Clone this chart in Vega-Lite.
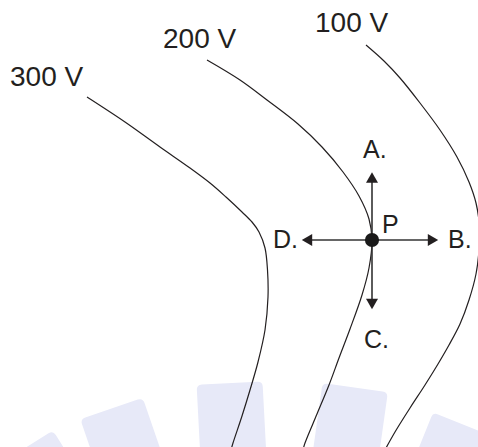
{
  "$schema": "https://vega.github.io/schema/vega-lite/v6.json",
  "width": 478,
  "height": 447,
  "padding": 0,
  "autosize": {"type": "none"},
  "background": "white",
  "config": {"view": {"stroke": null}},
  "datasets": {
    "watermark": [
      {"x": 60, "y": 504, "a": -32},
      {"x": 133, "y": 471, "a": -19},
      {"x": 233, "y": 449, "a": -3},
      {"x": 346, "y": 453, "a": 8},
      {"x": 439, "y": 486, "a": 22}
    ],
    "curves": [
      {"v": "300", "i": 0, "x": 87, "y": 97},
      {"v": "300", "i": 1, "x": 125, "y": 122},
      {"v": "300", "i": 2, "x": 160, "y": 147},
      {"v": "300", "i": 3, "x": 190, "y": 168},
      {"v": "300", "i": 4, "x": 210, "y": 183},
      {"v": "300", "i": 5, "x": 226, "y": 197},
      {"v": "300", "i": 6, "x": 242, "y": 212},
      {"v": "300", "i": 7, "x": 252, "y": 222},
      {"v": "300", "i": 8, "x": 259, "y": 232},
      {"v": "300", "i": 9, "x": 265, "y": 248},
      {"v": "300", "i": 10, "x": 267.5, "y": 270},
      {"v": "300", "i": 11, "x": 268, "y": 297},
      {"v": "300", "i": 12, "x": 265, "y": 330},
      {"v": "300", "i": 13, "x": 258, "y": 362},
      {"v": "300", "i": 14, "x": 250, "y": 390},
      {"v": "300", "i": 15, "x": 242, "y": 416},
      {"v": "300", "i": 16, "x": 233, "y": 443},
      {"v": "300", "i": 17, "x": 231, "y": 450},
      {"v": "200", "i": 0, "x": 207, "y": 60},
      {"v": "200", "i": 1, "x": 240, "y": 80},
      {"v": "200", "i": 2, "x": 267, "y": 100},
      {"v": "200", "i": 3, "x": 298, "y": 124},
      {"v": "200", "i": 4, "x": 322, "y": 147},
      {"v": "200", "i": 5, "x": 343, "y": 172},
      {"v": "200", "i": 6, "x": 359, "y": 196},
      {"v": "200", "i": 7, "x": 369, "y": 219},
      {"v": "200", "i": 8, "x": 372, "y": 240},
      {"v": "200", "i": 9, "x": 369, "y": 268},
      {"v": "200", "i": 10, "x": 362, "y": 295},
      {"v": "200", "i": 11, "x": 350, "y": 329},
      {"v": "200", "i": 12, "x": 339, "y": 358},
      {"v": "200", "i": 13, "x": 329, "y": 385},
      {"v": "200", "i": 14, "x": 317, "y": 414},
      {"v": "200", "i": 15, "x": 305, "y": 443},
      {"v": "200", "i": 16, "x": 303, "y": 450},
      {"v": "100", "i": 0, "x": 366, "y": 45},
      {"v": "100", "i": 1, "x": 384, "y": 61},
      {"v": "100", "i": 2, "x": 400, "y": 78},
      {"v": "100", "i": 3, "x": 420, "y": 103},
      {"v": "100", "i": 4, "x": 440, "y": 130},
      {"v": "100", "i": 5, "x": 457, "y": 157},
      {"v": "100", "i": 6, "x": 469, "y": 182},
      {"v": "100", "i": 7, "x": 476, "y": 203},
      {"v": "100", "i": 8, "x": 479.5, "y": 227},
      {"v": "100", "i": 9, "x": 479, "y": 250},
      {"v": "100", "i": 10, "x": 476, "y": 274},
      {"v": "100", "i": 11, "x": 469, "y": 300},
      {"v": "100", "i": 12, "x": 460, "y": 324},
      {"v": "100", "i": 13, "x": 449, "y": 345},
      {"v": "100", "i": 14, "x": 438, "y": 364},
      {"v": "100", "i": 15, "x": 425, "y": 385},
      {"v": "100", "i": 16, "x": 410, "y": 408},
      {"v": "100", "i": 17, "x": 395, "y": 432},
      {"v": "100", "i": 18, "x": 386, "y": 448}
    ],
    "arrows": [
      {"d": "A", "x": 372, "y": 240, "x2": 372, "y2": 178},
      {"d": "B", "x": 372, "y": 240, "x2": 433, "y2": 240},
      {"d": "C", "x": 372, "y": 240, "x2": 372, "y2": 304},
      {"d": "D", "x": 372, "y": 240, "x2": 307, "y2": 240}
    ],
    "heads": [
      {"d": "A", "x": 372, "y": 177.5, "shape": "triangle-up"},
      {"d": "B", "x": 433, "y": 240, "shape": "triangle-right"},
      {"d": "C", "x": 372, "y": 304, "shape": "triangle-down"},
      {"d": "D", "x": 307, "y": 240, "shape": "triangle-left"}
    ],
    "labels": [
      {"t": "300 V", "x": 10, "y": 86, "k": "v"},
      {"t": "200 V", "x": 163, "y": 48, "k": "v"},
      {"t": "100 V", "x": 315, "y": 32, "k": "v"},
      {"t": "A.", "x": 363, "y": 158, "k": "l"},
      {"t": "B.", "x": 448, "y": 248, "k": "l"},
      {"t": "C.", "x": 364, "y": 348, "k": "l"},
      {"t": "D.", "x": 273, "y": 248, "k": "l"},
      {"t": "P", "x": 382, "y": 233, "k": "l"}
    ],
    "point": [{"x": 372, "y": 240}]
  },
  "encoding": {
    "x": {"field": "x", "type": "quantitative", "scale": {"domain": [0, 478], "nice": false, "zero": false}, "axis": null},
    "y": {"field": "y", "type": "quantitative", "scale": {"domain": [447, 0], "nice": false, "zero": false}, "axis": null}
  },
  "layer": [
    {
      "data": {"name": "watermark"},
      "mark": {
        "type": "point",
        "filled": true,
        "opacity": 1,
        "color": "#e7e9f8",
        "shape": "M-0.42,-1L0.42,-1Q0.5,-1 0.5,-0.92L0.5,1L-0.5,1L-0.5,-0.92Q-0.5,-1 -0.42,-1Z",
        "size": 17424
      },
      "encoding": {
        "angle": {"field": "a", "type": "quantitative", "scale": null}
      }
    },
    {
      "data": {"name": "curves"},
      "mark": {"type": "line", "interpolate": "catmull-rom", "color": "#231f20", "strokeWidth": 1.2},
      "encoding": {
        "detail": {"field": "v"},
        "order": {"field": "i", "type": "quantitative"}
      }
    },
    {
      "data": {"name": "arrows"},
      "mark": {"type": "rule", "color": "#333333", "strokeWidth": 1.6},
      "encoding": {
        "x2": {"field": "x2"},
        "y2": {"field": "y2"}
      }
    },
    {
      "data": {"name": "heads"},
      "mark": {"type": "point", "filled": true, "opacity": 1, "color": "#231f20", "size": 144},
      "encoding": {
        "shape": {"field": "shape", "type": "nominal", "scale": null}
      }
    },
    {
      "data": {"name": "point"},
      "mark": {"type": "point", "filled": true, "opacity": 1, "color": "#1a1a1a", "size": 200, "shape": "circle"},
      "encoding": {}
    },
    {
      "data": {"name": "labels"},
      "transform": [{"filter": "datum.k == 'v'"}],
      "mark": {"type": "text", "font": "Liberation Sans", "fontSize": 28, "color": "#231f20", "align": "left", "baseline": "alphabetic"},
      "encoding": {
        "text": {"field": "t"}
      }
    },
    {
      "data": {"name": "labels"},
      "transform": [{"filter": "datum.k == 'l'"}],
      "mark": {"type": "text", "font": "Liberation Sans", "fontSize": 25, "color": "#231f20", "align": "left", "baseline": "alphabetic"},
      "encoding": {
        "text": {"field": "t"}
      }
    }
  ]
}
